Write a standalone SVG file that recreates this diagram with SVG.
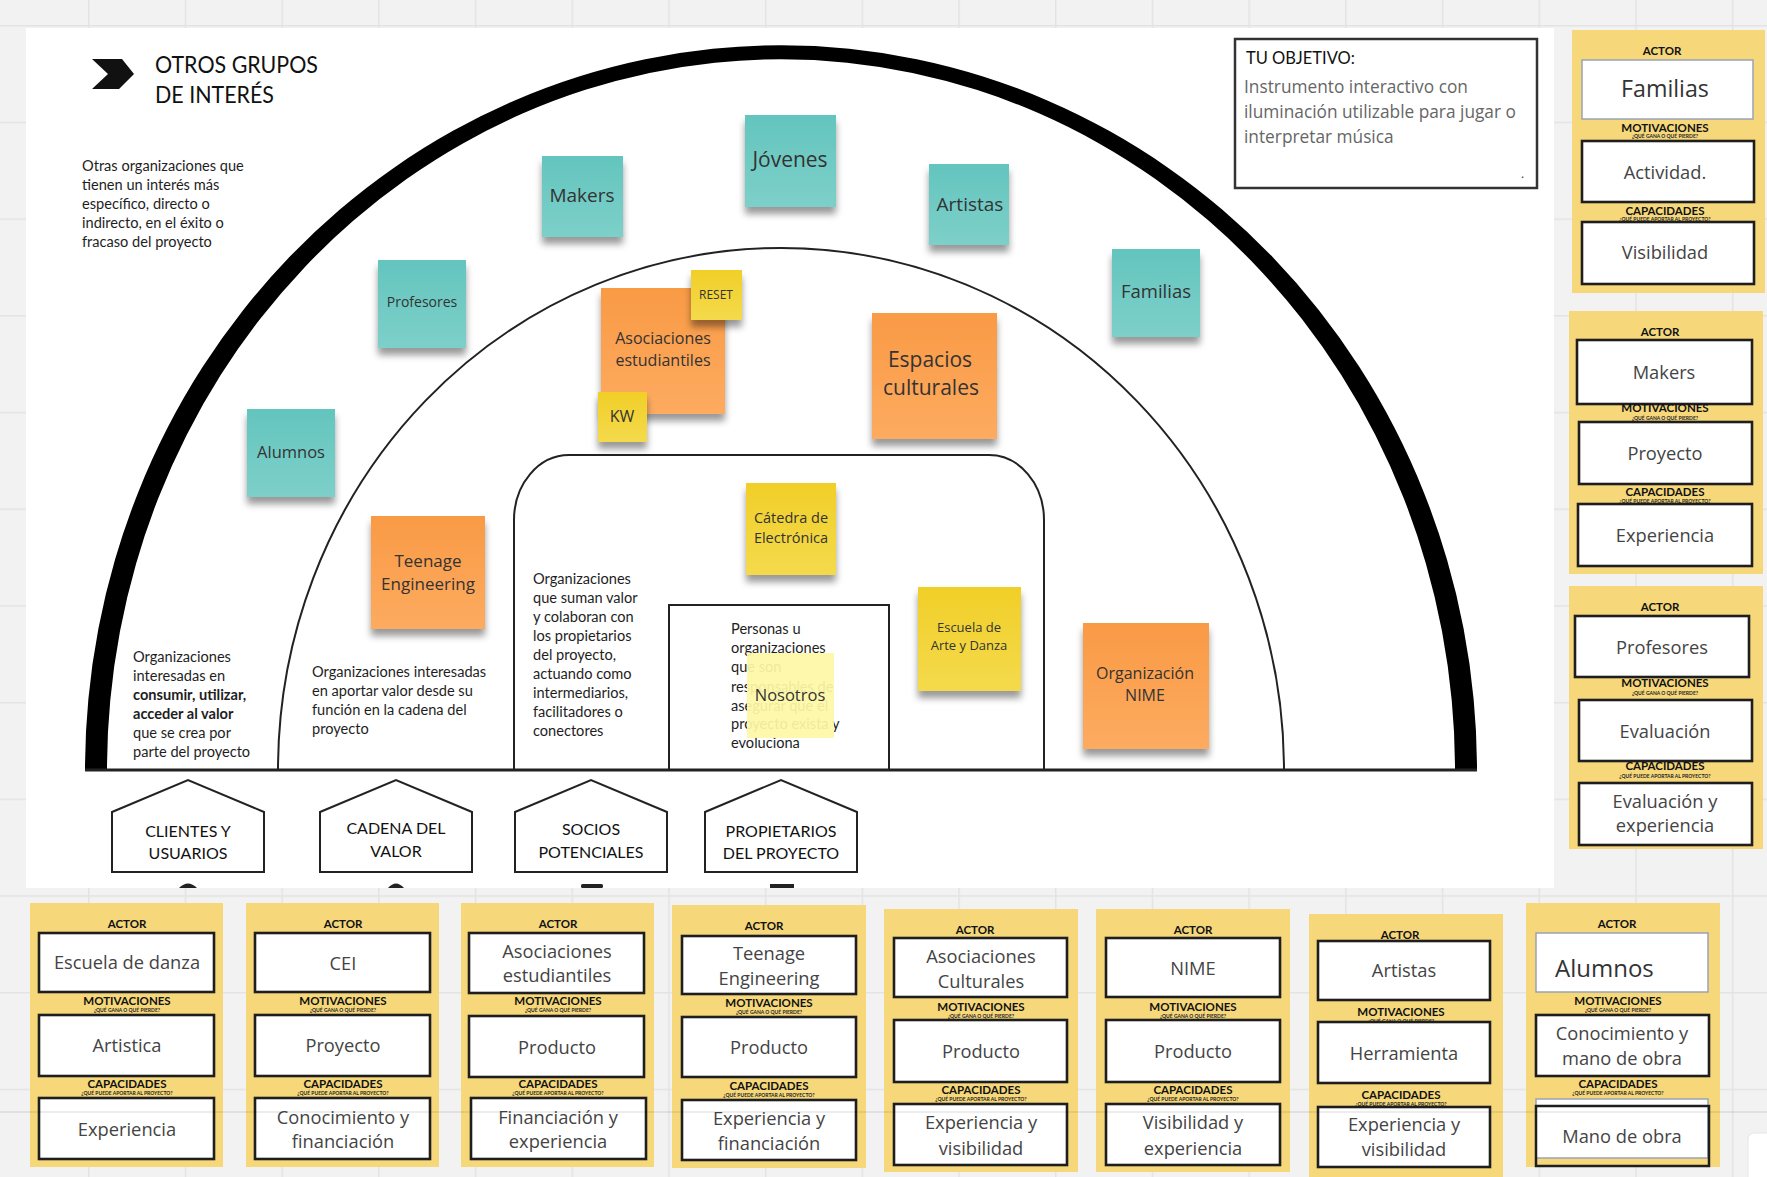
<svg xmlns="http://www.w3.org/2000/svg" width="1767" height="1177" viewBox="0 0 1767 1177">
<defs>
<style>
.bg{fill:#f2f2f2}
.canvas{fill:#fff}
.desc{font-family:Lato,"Open Sans",sans-serif;font-size:14.6px;fill:#1e1e1e}
.descb{font-weight:700}
.house{fill:#fff;stroke:#222;stroke-width:2}
.hl{font-family:Lato,"Open Sans",sans-serif;font-size:16px;fill:#111;text-anchor:middle}
.ring{fill:none;stroke:#222;stroke-width:2}
.st{font-family:"Open Sans",sans-serif;fill:#333;text-anchor:middle}
.card{fill:#f6d87b}
.box{fill:#fff;stroke:#1e1e1e;stroke-width:2.6}
.boxt{fill:#fff;stroke:#9aa3b5;stroke-width:1.5}
.hd{font-family:Lato,sans-serif;font-weight:700;font-size:11.5px;fill:#111;text-anchor:middle}
.tiny{font-family:Lato,sans-serif;font-weight:700;font-size:5px;fill:#222;text-anchor:middle}
.val{font-family:"Open Sans",sans-serif;font-size:18.3px;fill:#444;text-anchor:middle}
</style>
<pattern id="grid" patternUnits="userSpaceOnUse" x="-8.7" y="25" width="96.7" height="96.7">
<rect width="96.7" height="1.5" fill="#e3e3e3"/><rect width="1.5" height="96.7" fill="#e3e3e3"/>
</pattern>
<linearGradient id="gTeal" x1="0" y1="0" x2="0" y2="1"><stop offset="0" stop-color="#63c5be"/><stop offset="1" stop-color="#7dd0c9"/></linearGradient>
<linearGradient id="gOr" x1="0" y1="0" x2="0" y2="1"><stop offset="0" stop-color="#f99a45"/><stop offset="1" stop-color="#fdab60"/></linearGradient>
<linearGradient id="gYe" x1="0" y1="0" x2="0" y2="1"><stop offset="0" stop-color="#f1cf28"/><stop offset="1" stop-color="#f4da4c"/></linearGradient>
<filter id="sh" x="-20%" y="-20%" width="140%" height="150%"><feDropShadow dx="0" dy="7" stdDeviation="3.5" flood-color="#000" flood-opacity="0.4"/></filter>
</defs>

<rect class="bg" x="0" y="0" width="1767" height="1177"/>
<rect x="0" y="0" width="1767" height="1177" fill="url(#grid)"/>
<rect class="canvas" x="26" y="28" width="1528" height="860"/>

<g id="title">
<polygon points="92,59 122,59 134,74 119,89 92,89 108,74" fill="#111"/>
<text x="155" y="73" font-family="Lato, sans-serif" font-size="23.5" fill="#111" textLength="163" lengthAdjust="spacingAndGlyphs">OTROS GRUPOS</text>
<text x="155" y="103" font-family="Lato, sans-serif" font-size="23.5" fill="#111" textLength="119" lengthAdjust="spacingAndGlyphs">DE INTERÉS</text>
</g>

<g id="desc-otros" class="desc">
<text x="82" y="171">Otras organizaciones que</text>
<text x="82" y="190">tienen un interés más</text>
<text x="82" y="209">específico, directo o</text>
<text x="82" y="228">indirecto, en el éxito o</text>
<text x="82" y="247">fracaso del proyecto</text>
</g>

<g id="objetivo">
<rect x="1235" y="39" width="302" height="149" fill="#fff" stroke="#333" stroke-width="2.5"/>
<text x="1246" y="64" font-family="Lato, sans-serif" font-size="16.5" fill="#111">TU OBJETIVO:</text>
<g font-family="'Open Sans', sans-serif" font-size="17.3" fill="#666">
<text x="1244" y="93">Instrumento interactivo con</text>
<text x="1244" y="118">iluminación utilizable para jugar o</text>
<text x="1244" y="143">interpretar música</text>
<text x="1521" y="178" font-size="12" fill="#333">.</text>
</g>
</g>

<g id="rings">
<path d="M85 770 A696 725 0 0 1 1477 770 L1455 770 A674 711 0 0 0 107 770 Z" fill="#000"/>
<path class="ring" d="M278 770 A503 522 0 0 1 1284 770"/>
<path class="ring" d="M514 770 V520 A55 65 0 0 1 569 455 H989 A55 65 0 0 1 1044 520 V770"/>
<path class="ring" d="M669 770 V605 H889 V770"/>
<line x1="85" y1="770" x2="1477" y2="770" stroke="#222" stroke-width="3"/>
</g>

<g id="desc-clientes" class="desc">
<text x="133" y="662">Organizaciones</text>
<text x="133" y="681">interesadas en</text>
<text x="133" y="700" class="descb">consumir, utilizar,</text>
<text x="133" y="719" class="descb">acceder al valor</text>
<text x="133" y="738">que se crea por</text>
<text x="133" y="757">parte del proyecto</text>
</g>
<g id="desc-cadena" class="desc">
<text x="312" y="677">Organizaciones interesadas</text>
<text x="312" y="696">en aportar valor desde su</text>
<text x="312" y="715">función en la cadena del</text>
<text x="312" y="734">proyecto</text>
</g>
<g id="desc-socios" class="desc">
<text x="533" y="584">Organizaciones</text>
<text x="533" y="603">que suman valor</text>
<text x="533" y="622">y colaboran con</text>
<text x="533" y="641">los propietarios</text>
<text x="533" y="660">del proyecto,</text>
<text x="533" y="679">actuando como</text>
<text x="533" y="698">intermediarios,</text>
<text x="533" y="717">facilitadores o</text>
<text x="533" y="736">conectores</text>
</g>
<g id="desc-propietarios" class="desc">
<text x="731" y="634">Personas u</text>
<text x="731" y="653">organizaciones</text>
<text x="731" y="672">que son</text>
<text x="731" y="692">responsables de</text>
<text x="731" y="711">asegurar que el</text>
<text x="731" y="729">proyecto exista y</text>
<text x="731" y="748">evoluciona</text>
</g>

<g id="house-clientes">
<polygon class="house" points="112,872 112,812 188,780 264,812 264,872"/>
<text class="hl" x="188" y="837">CLIENTES Y</text><text class="hl" x="188" y="859">USUARIOS</text>
<path d="M179 888 Q188 879 197 888 Z" fill="#222"/>
</g>
<g id="house-cadena">
<polygon class="house" points="320,872 320,812 396,780 472,812 472,872"/>
<text class="hl" x="396" y="834">CADENA DEL</text><text class="hl" x="396" y="857">VALOR</text>
<path d="M388 888 Q396 879 404 888 Z" fill="#222"/>
</g>
<g id="house-socios">
<polygon class="house" points="515,872 515,812 591,780 667,812 667,872"/>
<text class="hl" x="591" y="835">SOCIOS</text><text class="hl" x="591" y="858">POTENCIALES</text>
<rect x="581" y="884" width="22" height="4" rx="1.5" fill="#222"/>
</g>
<g id="house-propietarios">
<polygon class="house" points="705,872 705,812 781,780 857,812 857,872"/>
<text class="hl" x="781" y="837">PROPIETARIOS</text><text class="hl" x="781" y="859">DEL PROYECTO</text>
<rect x="770" y="884" width="24" height="4" fill="#222"/>
</g>

<g id="stickies">
<g id="s-makers"><rect x="542" y="156" width="81" height="81" fill="url(#gTeal)" filter="url(#sh)"/><text class="st" x="582" y="202" font-size="19">Makers</text></g>
<g id="s-jovenes"><rect x="745" y="115" width="91" height="92" fill="url(#gTeal)" filter="url(#sh)"/><text class="st" x="790" y="167" font-size="21">Jóvenes</text></g>
<g id="s-artistas"><rect x="929" y="164" width="80" height="81" fill="url(#gTeal)" filter="url(#sh)"/><text class="st" x="970" y="211" font-size="19">Artistas</text></g>
<g id="s-familias"><rect x="1112" y="249" width="88" height="88" fill="url(#gTeal)" filter="url(#sh)"/><text class="st" x="1156" y="298" font-size="18.5">Familias</text></g>
<g id="s-profesores"><rect x="378" y="260" width="88" height="88" fill="url(#gTeal)" filter="url(#sh)"/><text class="st" x="422" y="307" font-size="14">Profesores</text></g>
<g id="s-alumnos"><rect x="247" y="409" width="88" height="88" fill="url(#gTeal)" filter="url(#sh)"/><text class="st" x="291" y="458" font-size="16.5">Alumnos</text></g>
<g id="s-asociaciones"><rect x="601" y="288" width="124" height="126" fill="url(#gOr)" filter="url(#sh)"/><text class="st" x="663" y="344" font-size="16">Asociaciones</text><text class="st" x="663" y="366" font-size="16">estudiantiles</text></g>
<g id="s-reset"><rect x="691" y="270" width="51" height="50" fill="url(#gYe)" filter="url(#sh)"/><text class="st" x="716" y="299" font-size="12">RESET</text></g>
<g id="s-kw"><rect x="598" y="392" width="49" height="50" fill="url(#gYe)" filter="url(#sh)"/><text class="st" x="622" y="422" font-size="16">KW</text></g>
<g id="s-espacios"><rect x="872" y="313" width="125" height="126" fill="url(#gOr)" filter="url(#sh)"/><text class="st" x="930" y="367" font-size="21">Espacios</text><text class="st" x="931" y="395" font-size="21">culturales</text></g>
<g id="s-teenage"><rect x="371" y="516" width="114" height="113" fill="url(#gOr)" filter="url(#sh)"/><text class="st" x="428" y="567" font-size="17">Teenage</text><text class="st" x="428" y="590" font-size="17">Engineering</text></g>
<g id="s-nime"><rect x="1083" y="623" width="126" height="126" fill="url(#gOr)" filter="url(#sh)"/><text class="st" x="1145" y="679" font-size="16">Organización</text><text class="st" x="1145" y="701" font-size="16">NIME</text></g>
<g id="s-catedra"><rect x="746" y="483" width="90" height="92" fill="url(#gYe)" filter="url(#sh)"/><text class="st" x="791" y="523" font-size="14.5">Cátedra de</text><text class="st" x="791" y="543" font-size="14.5">Electrónica</text></g>
<g id="s-escuela"><rect x="918" y="587" width="103" height="104" fill="url(#gYe)" filter="url(#sh)"/><text class="st" x="969" y="632" font-size="13">Escuela de</text><text class="st" x="969" y="650" font-size="13">Arte y Danza</text></g>
<g id="s-nosotros"><rect x="747" y="653" width="87" height="85" fill="#fdf7a6" opacity="0.93"/><text class="st" x="790" y="701" font-size="16.5">Nosotros</text></g>
</g>

<g id="card-escuela-danza" transform="translate(30,903)">
<rect class="card" width="193" height="264"/>
<text class="hd" x="97" y="25">ACTOR</text>
<rect class="box" x="9" y="30" width="175" height="59"/>
<text class="val" x="97" y="66">Escuela de danza</text>
<text class="hd" x="97" y="102">MOTIVACIONES</text><text class="tiny" x="97" y="109">¿QUÉ GANA O QUÉ PIERDE?</text>
<rect class="box" x="9" y="112" width="175" height="61"/>
<text class="val" x="97" y="149">Artistica</text>
<text class="hd" x="97" y="185">CAPACIDADES</text><text class="tiny" x="97" y="192">¿QUÉ PUEDE APORTAR AL PROYECTO?</text>
<rect class="box" x="9" y="195" width="175" height="61"/>
<text class="val" x="97" y="233">Experiencia</text>
</g>
<g id="card-cei" transform="translate(246,903)">
<rect class="card" width="193" height="264"/>
<text class="hd" x="97" y="25">ACTOR</text>
<rect class="box" x="9" y="30" width="175" height="59"/>
<text class="val" x="97" y="67">CEI</text>
<text class="hd" x="97" y="102">MOTIVACIONES</text><text class="tiny" x="97" y="109">¿QUÉ GANA O QUÉ PIERDE?</text>
<rect class="box" x="9" y="112" width="175" height="61"/>
<text class="val" x="97" y="149">Proyecto</text>
<text class="hd" x="97" y="185">CAPACIDADES</text><text class="tiny" x="97" y="192">¿QUÉ PUEDE APORTAR AL PROYECTO?</text>
<rect class="box" x="9" y="195" width="175" height="61"/>
<text class="val" x="97" y="221">Conocimiento y</text><text class="val" x="97" y="245">financiación</text>
</g>
<g id="card-asoc-estudiantiles" transform="translate(461,903)">
<rect class="card" width="193" height="264"/>
<text class="hd" x="97" y="25">ACTOR</text>
<rect class="box" x="8" y="30" width="175" height="60"/>
<text class="val" x="96" y="55">Asociaciones</text><text class="val" x="96" y="79">estudiantiles</text>
<text class="hd" x="97" y="102">MOTIVACIONES</text><text class="tiny" x="97" y="109">¿QUÉ GANA O QUÉ PIERDE?</text>
<rect class="box" x="8" y="113" width="175" height="61"/>
<text class="val" x="96" y="151">Producto</text>
<text class="hd" x="97" y="185">CAPACIDADES</text><text class="tiny" x="97" y="192">¿QUÉ PUEDE APORTAR AL PROYECTO?</text>
<rect class="box" x="10" y="195" width="175" height="61"/>
<text class="val" x="97" y="221">Financiación y</text><text class="val" x="97" y="245">experiencia</text>
</g>
<g id="card-teenage" transform="translate(672,905)">
<rect class="card" width="194" height="263"/>
<text class="hd" x="92" y="25">ACTOR</text>
<rect class="box" x="10" y="31" width="174" height="58"/>
<text class="val" x="97" y="55">Teenage</text><text class="val" x="97" y="80">Engineering</text>
<text class="hd" x="97" y="102">MOTIVACIONES</text><text class="tiny" x="97" y="109">¿QUÉ GANA O QUÉ PIERDE?</text>
<rect class="box" x="10" y="112" width="174" height="60"/>
<text class="val" x="97" y="149">Producto</text>
<text class="hd" x="97" y="185">CAPACIDADES</text><text class="tiny" x="97" y="192">¿QUÉ PUEDE APORTAR AL PROYECTO?</text>
<rect class="box" x="10" y="195" width="174" height="60"/>
<text class="val" x="97" y="220">Experiencia y</text><text class="val" x="97" y="245">financiación</text>
</g>
<g id="card-asoc-culturales" transform="translate(884,909)">
<rect class="card" width="194" height="263"/>
<text class="hd" x="91" y="25">ACTOR</text>
<rect class="box" x="10" y="29" width="173" height="59"/>
<text class="val" x="97" y="54">Asociaciones</text><text class="val" x="97" y="79">Culturales</text>
<text class="hd" x="97" y="102">MOTIVACIONES</text><text class="tiny" x="97" y="109">¿QUÉ GANA O QUÉ PIERDE?</text>
<rect class="box" x="10" y="111" width="173" height="62"/>
<text class="val" x="97" y="149">Producto</text>
<text class="hd" x="97" y="185">CAPACIDADES</text><text class="tiny" x="97" y="192">¿QUÉ PUEDE APORTAR AL PROYECTO?</text>
<rect class="box" x="10" y="195" width="173" height="61"/>
<text class="val" x="97" y="220">Experiencia y</text><text class="val" x="97" y="246">visibilidad</text>
</g>
<g id="card-nime" transform="translate(1096,909)">
<rect class="card" width="194" height="263"/>
<text class="hd" x="97" y="25">ACTOR</text>
<rect class="box" x="10" y="29" width="174" height="59"/>
<text class="val" x="97" y="66">NIME</text>
<text class="hd" x="97" y="102">MOTIVACIONES</text><text class="tiny" x="97" y="109">¿QUÉ GANA O QUÉ PIERDE?</text>
<rect class="box" x="10" y="111" width="174" height="62"/>
<text class="val" x="97" y="149">Producto</text>
<text class="hd" x="97" y="185">CAPACIDADES</text><text class="tiny" x="97" y="192">¿QUÉ PUEDE APORTAR AL PROYECTO?</text>
<rect class="box" x="10" y="195" width="174" height="61"/>
<text class="val" x="97" y="220">Visibilidad y</text><text class="val" x="97" y="246">experiencia</text>
</g>
<g id="card-artistas" transform="translate(1309,914)">
<rect class="card" width="194" height="263"/>
<text class="hd" x="91" y="25">ACTOR</text>
<rect class="box" x="9" y="27" width="172" height="59"/>
<text class="val" x="95" y="63">Artistas</text>
<text class="hd" x="92" y="102">MOTIVACIONES</text><text class="tiny" x="92" y="109">¿QUÉ GANA O QUÉ PIERDE?</text>
<rect class="box" x="9" y="108" width="172" height="61"/>
<text class="val" x="95" y="146">Herramienta</text>
<text class="hd" x="92" y="185">CAPACIDADES</text><text class="tiny" x="92" y="192">¿QUÉ PUEDE APORTAR AL PROYECTO?</text>
<rect class="box" x="9" y="193" width="172" height="60"/>
<text class="val" x="95" y="217">Experiencia y</text><text class="val" x="95" y="242">visibilidad</text>
</g>
<g id="card-alumnos" transform="translate(1526,903)">
<rect class="card" width="194" height="264"/>
<text class="hd" x="91" y="25">ACTOR</text>
<rect class="boxt" x="10" y="30" width="172" height="59"/>
<text x="29" y="74" font-family="'Open Sans', sans-serif" font-size="24" fill="#333">Alumnos</text>
<text class="hd" x="92" y="102">MOTIVACIONES</text><text class="tiny" x="92" y="109">¿QUÉ GANA O QUÉ PIERDE?</text>
<rect class="box" x="10" y="112" width="173" height="61"/>
<text class="val" x="96" y="137">Conocimiento y</text><text class="val" x="96" y="162">mano de obra</text>
<text class="hd" x="92" y="185">CAPACIDADES</text><text class="tiny" x="92" y="192">¿QUÉ PUEDE APORTAR AL PROYECTO?</text>
<rect class="boxt" x="10" y="196" width="172" height="59"/>
<rect x="10" y="203" width="173" height="60" fill="none" stroke="#1e1e1e" stroke-width="2.5"/>
<text class="val" x="96" y="240">Mano de obra</text>
</g>

<g id="card-familias" transform="translate(1572,30)">
<rect class="card" width="193" height="263"/>
<text class="hd" x="90" y="25">ACTOR</text>
<rect class="boxt" x="10" y="30" width="171" height="59"/>
<text class="st" x="93" y="67" font-size="23.2" fill="#333">Familias</text>
<text class="hd" x="93" y="102">MOTIVACIONES</text><text class="tiny" x="93" y="108">¿QUÉ GANA O QUÉ PIERDE?</text>
<rect class="box" x="10" y="111" width="172" height="61"/>
<text class="val" x="93" y="149" font-size="19.5">Actividad.</text>
<text class="hd" x="93" y="185">CAPACIDADES</text><text class="tiny" x="93" y="191">¿QUÉ PUEDE APORTAR AL PROYECTO?</text>
<rect class="box" x="10" y="192" width="172" height="62"/>
<text class="val" x="93" y="229" font-size="19.5">Visibilidad</text>
</g>
<g id="card-makers" transform="translate(1569,311)">
<rect class="card" width="194" height="263"/>
<text class="hd" x="91" y="25">ACTOR</text>
<rect class="box" x="8" y="29" width="175" height="64"/>
<text class="val" x="95" y="68">Makers</text>
<text class="hd" x="96" y="101">MOTIVACIONES</text><text class="tiny" x="96" y="109">¿QUÉ GANA O QUÉ PIERDE?</text>
<rect class="box" x="10" y="111" width="173" height="62"/>
<text class="val" x="96" y="149">Proyecto</text>
<text class="hd" x="96" y="185">CAPACIDADES</text><text class="tiny" x="96" y="192">¿QUÉ PUEDE APORTAR AL PROYECTO?</text>
<rect class="box" x="9" y="193" width="174" height="62"/>
<text class="val" x="96" y="231">Experiencia</text>
</g>
<g id="card-profesores" transform="translate(1569,586)">
<rect class="card" width="194" height="263"/>
<text class="hd" x="91" y="25">ACTOR</text>
<rect class="box" x="6" y="30" width="174" height="61"/>
<text class="val" x="93" y="68">Profesores</text>
<text class="hd" x="96" y="101">MOTIVACIONES</text><text class="tiny" x="96" y="109">¿QUÉ GANA O QUÉ PIERDE?</text>
<rect class="box" x="10" y="114" width="173" height="61"/>
<text class="val" x="96" y="152">Evaluación</text>
<text class="hd" x="96" y="184">CAPACIDADES</text><text class="tiny" x="96" y="192">¿QUÉ PUEDE APORTAR AL PROYECTO?</text>
<rect class="box" x="10" y="197" width="173" height="62"/>
<text class="val" x="96" y="222">Evaluación y</text><text class="val" x="96" y="246">experiencia</text>
</g>

<rect x="1748" y="1133" width="30" height="50" rx="6" fill="#fff" stroke="#e6e6e6"/>
<rect x="0" y="1111" width="1767" height="2" fill="#000" opacity="0.07"/>
</svg>
